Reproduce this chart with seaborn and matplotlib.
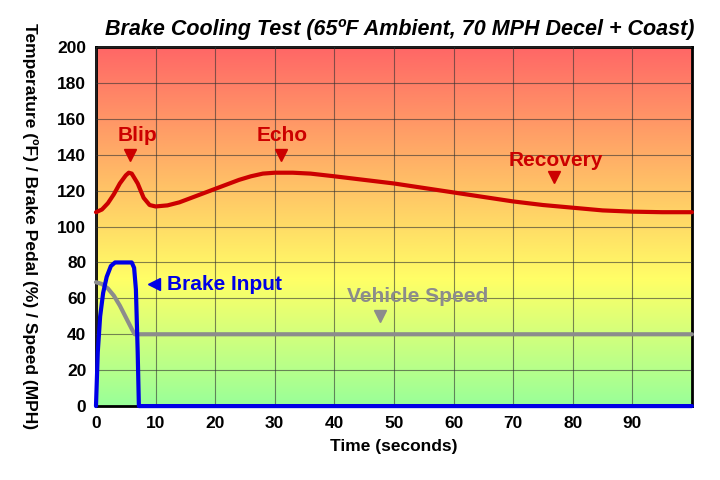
import numpy as np
import pandas as pd
import matplotlib
matplotlib.use("Agg")
import matplotlib.pyplot as plt
from matplotlib.colors import LinearSegmentedColormap
import seaborn as sns

# values
temp_t = [0, 1, 2, 3, 4, 5, 5.5, 6, 7, 8, 9, 10, 12, 14, 16, 18, 20, 22, 24, 26, 28,
          30, 33, 36, 40, 45, 50, 55, 60, 65, 70, 75, 80, 85, 90, 95, 100]
temp_f = [108, 109.5, 113, 118, 124, 128.5, 130, 129.5, 124, 116, 112, 111.2, 111.8,
          113.5, 116, 118.5, 121, 123.5, 126, 128, 129.5, 130, 130, 129.5, 128, 126,
          124, 121.5, 119, 116.5, 114, 112, 110.5, 109, 108.3, 108, 108]

brake_t = [0, 0.3, 0.7, 1.2, 1.8, 2.5, 3.2, 6.0, 6.4, 6.7, 7.0, 7.2, 100]
brake_pct = [0, 30, 50, 63, 72, 78, 80, 80, 77, 65, 30, 0, 0]

speed_t = [0, 1, 2, 3, 4, 5, 6, 6.5, 100]
speed_mph = [69, 68, 65.5, 61.5, 56, 49.5, 43, 40, 40]

x_ticks = [0, 10, 20, 30, 40, 50, 60, 70, 80, 90]
y_ticks = [0, 20, 40, 60, 80, 100, 120, 140, 160, 180, 200]

red = "#cc0000"
blue = "#0000e6"
gray = "#8c8c8c"

sns.set_style("white")
plt.rcParams['font.family'] = ['Liberation Sans', 'DejaVu Sans']

fig = plt.figure(figsize=(7.2, 4.8), dpi=100)
ax = fig.add_axes([0.1333, 0.154, 0.8277, 0.748])

# background gradient (green -> yellow -> red)
cmap = LinearSegmentedColormap.from_list(
    "heat", [(0.0, "#99ff99"), (0.35, "#ffff66"), (1.0, "#ff6666")])
grad = np.linspace(0, 1, 256).reshape(-1, 1)
ax.imshow(grad, cmap=cmap, aspect="auto", origin="lower",
          extent=[0, 100, 0, 200], zorder=0)

temp_df = pd.DataFrame({"t": temp_t, "v": temp_f})
brake_df = pd.DataFrame({"t": brake_t, "v": brake_pct})
speed_df = pd.DataFrame({"t": speed_t, "v": speed_mph})

sns.lineplot(data=speed_df, x="t", y="v", ax=ax, color=gray, lw=3, zorder=3)
sns.lineplot(data=temp_df, x="t", y="v", ax=ax, color=red, lw=3, zorder=4)
sns.lineplot(data=brake_df, x="t", y="v", ax=ax, color=blue, lw=3, zorder=5)
for l in ax.lines:
    l.set_clip_on(False)
    l.set_solid_capstyle("round")

ax.set_xlim(0, 100)
ax.set_ylim(0, 200)
ax.set_xticks(x_ticks)
ax.set_yticks(y_ticks)
ax.grid(True, color="#333333", lw=0.8, alpha=0.6)
ax.set_axisbelow(False)
for gl in ax.get_xgridlines() + ax.get_ygridlines():
    gl.set_zorder(1)
ax.tick_params(length=0, pad=7, labelsize=12.5, labelcolor="black")
for lab in ax.get_xticklabels() + ax.get_yticklabels():
    lab.set_fontweight("bold")
for s in ax.spines.values():
    s.set_color("black")
    s.set_linewidth(2)
    s.set_zorder(2)

ax.set_xlabel("Time (seconds)", fontsize=12.5, fontweight="bold", labelpad=6, color="black")
ax.set_ylabel("Temperature (ºF) / Brake Pedal (%) / Speed (MPH)", fontsize=12.5,
              fontweight="bold", labelpad=14, rotation=270, va="top", color="black")
ax.set_title("Brake Cooling Test (65ºF Ambient, 70 MPH Decel + Coast)",
             fontsize=15.5, fontweight="bold", style="italic", pad=9, x=0.51, color="black")

# annotations
ax.text(6.9, 151, "Blip", color=red, fontsize=15, fontweight="bold", ha="center", va="center", zorder=6)
ax.plot([5.7], [140], marker="v", ms=9, color=red, zorder=6)
ax.text(31.3, 151, "Echo", color=red, fontsize=15, fontweight="bold", ha="center", va="center", zorder=6)
ax.plot([31], [140], marker="v", ms=9, color=red, zorder=6)
ax.text(77.2, 137, "Recovery", color=red, fontsize=15, fontweight="bold", ha="center", va="center", zorder=6)
ax.plot([76.9], [127.6], marker="v", ms=9, color=red, zorder=6)
ax.text(53.9, 61.3, "Vehicle Speed", color=gray, fontsize=15, fontweight="bold", ha="center", va="center", zorder=6)
ax.plot([47.7], [50], marker="v", ms=9, color=gray, zorder=6)
ax.plot([9.7], [68], marker="<", ms=9, color=blue, zorder=6)
ax.text(11.9, 68, "Brake Input", color=blue, fontsize=15, fontweight="bold", ha="left", va="center", zorder=6)

fig.savefig("out.png", dpi=100)
